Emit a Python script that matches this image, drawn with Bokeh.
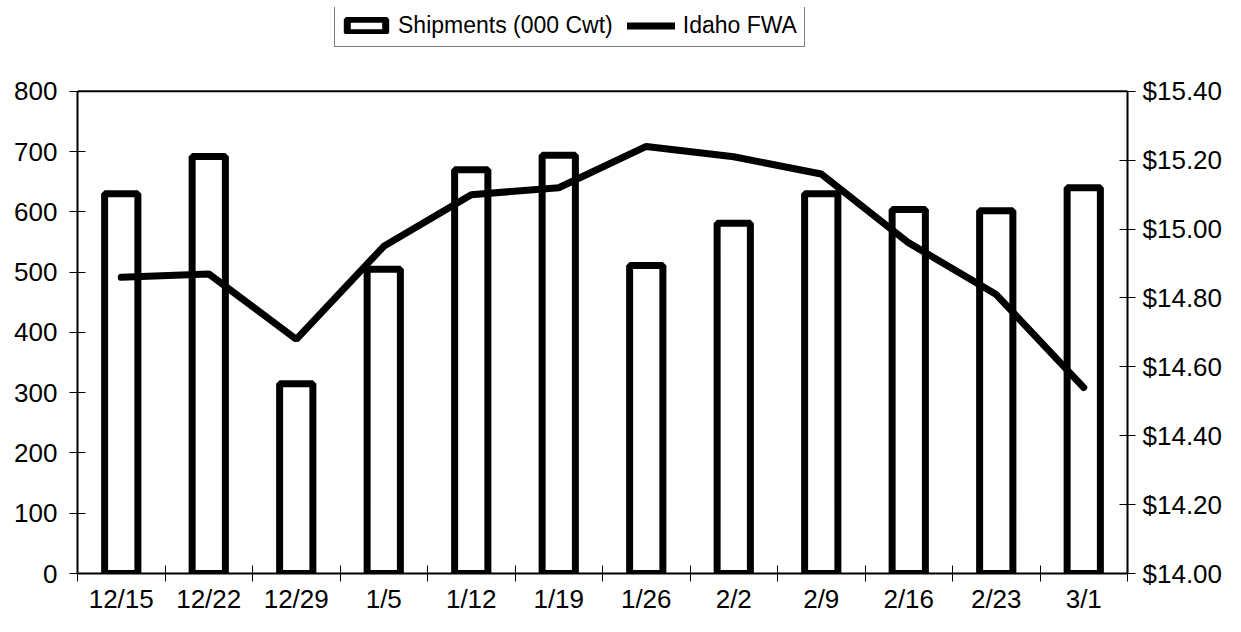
from bokeh.plotting import figure
from bokeh.models import Range1d, LinearAxis, FixedTicker, NumeralTickFormatter, Legend, LegendItem, ColumnDataSource, Span
from bokeh.embed import file_html
from bokeh.resources import INLINE

categories = ["12/15", "12/22", "12/29", "1/5", "1/12", "1/19", "1/26", "2/2", "2/9", "2/16", "2/23", "3/1"]
shipments = [630, 692, 315, 505, 670, 694, 511, 581, 630, 604, 602, 640]
idaho_fwa = [14.86, 14.87, 14.68, 14.95, 15.10, 15.12, 15.24, 15.21, 15.16, 14.96, 14.81, 14.54]
left_ticks = [0, 100, 200, 300, 400, 500, 600, 700, 800]
right_ticks = [14.0, 14.2, 14.4, 14.6, 14.8, 15.0, 15.2, 15.4]

xs = list(range(1, len(categories) + 1))
bounds = [x - 0.5 for x in xs] + [xs[-1] + 0.5]

src = ColumnDataSource(dict(x=xs, ship=shipments, price=idaho_fwa))

FONT = "Liberation Sans"

# layout (figure pixels): frame extends up to the legend; the plotted box tops out at 800
W, H = 1225, 616
FRAME_TOP, BORDER_BOTTOM = 7, 42
BOX_TOP = 91
frame_bottom = H - BORDER_BOTTOM
stretch = (frame_bottom - FRAME_TOP) / (frame_bottom - BOX_TOP)
l_lo, l_hi = left_ticks[0], left_ticks[-1]
r_lo, r_hi = right_ticks[0], right_ticks[-1]

p = figure(width=W, height=H, output_backend="svg", toolbar_location=None,
           x_range=Range1d(0.5, len(categories) + 0.5),
           y_range=Range1d(l_lo, l_lo + (l_hi - l_lo) * stretch),
           min_border_left=77, min_border_right=92, min_border_top=FRAME_TOP,
           min_border_bottom=BORDER_BOTTOM)
p.grid.visible = False
p.outline_line_color = None
p.extra_y_ranges = {"price": Range1d(r_lo, r_lo + (r_hi - r_lo) * stretch)}

bars = p.vbar(x="x", top="ship", bottom=0, width=0.38, source=src,
              fill_color="white", line_color="black", line_width=7)
line = p.line(x="x", y="price", source=src, y_range_name="price",
              line_color="black", line_width=7, line_cap="round")

# top border of the plot box
p.add_layout(Span(location=l_hi, dimension="width", line_color="black", line_width=2))

# x axis
xa = p.xaxis[0]
xa.ticker = FixedTicker(ticks=xs, minor_ticks=bounds)
xa.major_label_overrides = {x: c for x, c in zip(xs, categories)}
xa.major_tick_in = 0
xa.major_tick_out = 0
xa.minor_tick_in = 8
xa.minor_tick_out = 8
xa.minor_tick_line_color = "black"
xa.minor_tick_line_width = 1
xa.major_label_standoff = 2

# left axis
ya = p.yaxis[0]
ya.ticker = FixedTicker(ticks=left_ticks)
ya.bounds = (l_lo, l_hi)
ya.major_tick_in = 8
ya.major_tick_out = 8
ya.minor_tick_line_color = None
ya.major_label_standoff = 12

# right axis
ra = LinearAxis(y_range_name="price", ticker=FixedTicker(ticks=right_ticks),
                formatter=NumeralTickFormatter(format="$0.00"), bounds=(r_lo, r_hi))
ra.major_tick_in = 8
ra.major_tick_out = 8
ra.minor_tick_line_color = None
ra.major_label_standoff = 7
p.add_layout(ra, "right")

for ax in [xa, ya, ra]:
    ax.axis_line_color = "black"
    ax.axis_line_width = 2
    ax.major_tick_line_color = "black"
    ax.major_tick_line_width = 1
    ax.major_label_text_font = FONT
    ax.major_label_text_font_size = "26px"
    ax.major_label_text_color = "black"

legend = Legend(items=[LegendItem(label="Shipments (000 Cwt)", renderers=[bars]),
                       LegendItem(label="Idaho FWA", renderers=[line])],
                location=(257, frame_bottom - 48), orientation="horizontal",
                glyph_width=48, glyph_height=17, label_standoff=8, spacing=14,
                padding=7, margin=0,
                label_text_font=FONT, label_text_font_size="23px", label_text_color="black",
                border_line_color="black", border_line_width=1,
                background_fill_color="white", background_fill_alpha=1)
p.add_layout(legend)

open("out.html", "w").write(file_html(p, INLINE))
